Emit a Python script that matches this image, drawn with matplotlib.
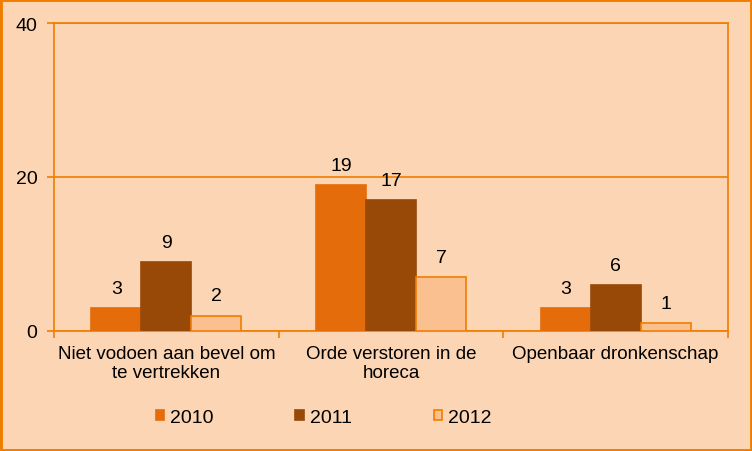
import numpy as np
import matplotlib.pyplot as plt
from matplotlib.patches import Rectangle

plt.rcParams['font.family'] = ['Liberation Sans', 'DejaVu Sans']

categories = ['Niet vodoen aan bevel om\nte vertrekken', 'Orde verstoren in de\nhoreca', 'Openbaar dronkenschap']
years = ['2010', '2011', '2012']
values_2010 = [3, 19, 3]
values_2011 = [9, 17, 6]
values_2012 = [2, 7, 1]

bg = '#FCD5B4'
line_orange = '#F07D00'
colors = ['#E46C0A', '#984807', '#FAC090']
edges = ['#E46C0A', '#984807', line_orange]

fig = plt.figure(figsize=(7.52, 4.52), dpi=100, facecolor=bg)
fig.patches.append(Rectangle((0, 0), 1, 1, transform=fig.transFigure, fill=False,
                             edgecolor=line_orange, linewidth=3.5, zorder=10))
ax = fig.add_axes([54 / 752, 120 / 452, 674 / 752, 308 / 452])
ax.set_facecolor(bg)

x = np.arange(len(categories))
w = 0.2225
for i, (vals, year) in enumerate(zip([values_2010, values_2011, values_2012], years)):
    bars = ax.bar(x + (i - 1) * w, vals, width=w, color=colors[i], edgecolor=edges[i],
                  linewidth=1.2, label=year, zorder=3)
    ax.bar_label(bars, padding=8, fontsize=14, color='black')

ax.set_xlim(-0.5, 2.5)
ax.set_ylim(0, 40)
ax.set_yticks([0, 20, 40])
ax.yaxis.grid(True, color=line_orange, linewidth=1.2, zorder=1)
ax.set_axisbelow(True)
for s in ax.spines.values():
    s.set_color(line_orange)
    s.set_linewidth(1.2)

ax.set_xticks([-0.5, 0.5, 1.5, 2.5])
ax.set_xticklabels([])
ax.set_xticks(x, minor=True)
ax.set_xticklabels(categories, minor=True, fontsize=13.5)
ax.tick_params(axis='x', which='minor', length=0, pad=10)
ax.tick_params(axis='both', which='major', length=5, color=line_orange, width=1.2, labelsize=14)
ax.tick_params(axis='y', pad=7)

ax.legend(loc='center', bbox_to_anchor=(0.40, -0.28), ncol=3, frameon=False, fontsize=14,
          handlelength=0.45, handleheight=0.45, handletextpad=0.3, columnspacing=4.2)

fig.savefig('out.png', dpi=100, facecolor=bg)
